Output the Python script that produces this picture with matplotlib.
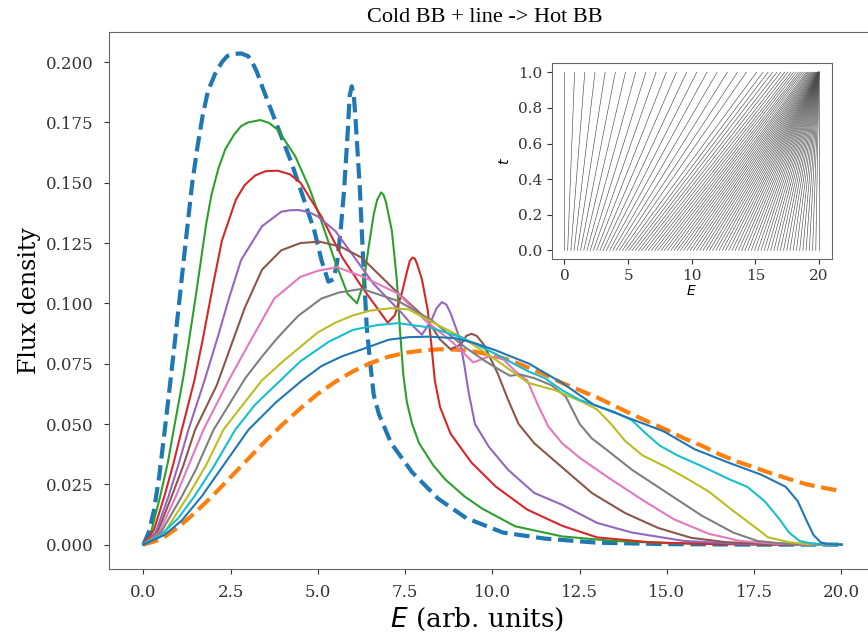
import numpy as np
import matplotlib
matplotlib.use("Agg")
import matplotlib.pyplot as plt

# spectra (E in arb. units, flux density)
e_cold = [0, 0.15, 0.3, 0.45, 0.6, 0.8, 1.0, 1.2, 1.4, 1.55, 1.7, 1.85, 2.05, 2.25, 2.4,
          2.6, 2.8, 3.0, 3.1, 3.25, 3.4, 3.85, 4.25, 4.6, 4.9, 5.1, 5.3, 5.45, 5.55, 5.65,
          5.75, 5.85, 5.91, 5.97, 6.03, 6.08, 6.2, 6.3, 6.4, 6.5, 6.6, 6.75, 7.1, 7.7, 8.45,
          9.25, 10.3, 11.5, 13, 15, 17.5, 20]
f_cold = [0, 0.005, 0.014, 0.028, 0.046, 0.071, 0.097, 0.124, 0.150, 0.165, 0.178, 0.188,
          0.195, 0.200, 0.2025, 0.2034, 0.2036, 0.2025, 0.2005, 0.196, 0.190, 0.173, 0.158,
          0.143, 0.130, 0.118, 0.109, 0.110, 0.117, 0.130, 0.147, 0.170, 0.186, 0.190, 0.186,
          0.176, 0.148, 0.117, 0.090, 0.075, 0.062, 0.054, 0.042, 0.030, 0.019, 0.011, 0.005,
          0.0025, 0.0008, 0.0002, 0, 0]

e_hot = [0, 0.5, 1.0, 1.5, 2.0, 2.5, 3.0, 3.5, 4.0, 4.5, 5.0, 5.5, 6.0, 6.5, 7.0, 7.5, 8.0,
         8.5, 9.0, 9.5, 10.0, 10.5, 11.0, 11.5, 12.0, 12.5, 13.0, 13.5, 14.0, 14.5, 15.0,
         15.5, 16.0, 16.5, 17.0, 17.5, 18.0, 18.5, 19.0, 19.5, 20.0]
f_hot = [0, 0.0022, 0.0072, 0.0135, 0.0205, 0.028, 0.0355, 0.043, 0.050, 0.0565, 0.0625,
         0.0675, 0.0718, 0.0752, 0.0778, 0.0795, 0.0805, 0.081, 0.0808, 0.080, 0.0785,
         0.0765, 0.0735, 0.0705, 0.067, 0.064, 0.061, 0.0575, 0.054, 0.0507, 0.0475, 0.044,
         0.041, 0.0375, 0.0345, 0.032, 0.0295, 0.0272, 0.025, 0.0235, 0.0222]

# intermediate spectra
e_1 = [0, 0.2, 0.48, 0.7, 0.86, 1.0, 1.15, 1.3, 1.5, 1.8, 1.95, 2.15, 2.35, 2.6, 2.8, 3.0,
       3.35, 3.6, 3.85, 4.35, 4.75, 5.1, 5.5, 5.85, 6.12, 6.3, 6.45, 6.6, 6.7, 6.81, 6.88,
       6.95, 7.12, 7.26, 7.35, 7.45, 7.55, 7.7, 7.9, 8.3, 8.65, 9.2, 9.7, 10.65, 12.0, 13.5,
       15.0, 17.5, 20.0]
f_1 = [0, 0.004, 0.020, 0.034, 0.047, 0.058, 0.070, 0.084, 0.103, 0.133, 0.145, 0.156,
       0.164, 0.170, 0.1735, 0.175, 0.176, 0.1748, 0.172, 0.161, 0.148, 0.134, 0.117, 0.104,
       0.100, 0.108, 0.123, 0.137, 0.143, 0.146, 0.145, 0.142, 0.130, 0.110, 0.089, 0.070,
       0.059, 0.050, 0.042, 0.033, 0.027, 0.020, 0.015, 0.0076, 0.0034, 0.0015, 0.0006,
       0.0001, 0]

e_2 = [0, 0.3, 0.6, 0.85, 1.1, 1.46, 1.7, 2.0, 2.25, 2.65, 2.9, 3.2, 3.5, 3.85, 4.2, 4.5,
       5.1, 5.7, 6.25, 6.75, 7.0, 7.2, 7.4, 7.55, 7.63, 7.71, 7.78, 7.85, 7.98, 8.15, 8.25,
       8.35, 8.5, 8.8, 9.4, 10.1, 11.0, 12.0, 13.0, 14.5, 16.0, 18.0, 20.0]
f_2 = [0, 0.006, 0.020, 0.033, 0.0476, 0.068, 0.085, 0.108, 0.126, 0.143, 0.149, 0.153,
       0.1548, 0.155, 0.1535, 0.150, 0.136, 0.119, 0.107, 0.097, 0.092, 0.095, 0.104, 0.113,
       0.1175, 0.119, 0.1185, 0.116, 0.110, 0.097, 0.083, 0.068, 0.057, 0.046, 0.034, 0.024,
       0.0145, 0.0078, 0.003, 0.001, 0.0003, 0, 0]

e_3 = [0, 0.35, 0.72, 1.0, 1.29, 1.75, 2.15, 2.45, 2.8, 3.4, 3.95, 4.2, 4.45, 4.75, 5.0,
       5.5, 6.05, 6.6, 7.0, 7.4, 7.7, 7.98, 8.25, 8.4, 8.55, 8.68, 8.8, 9.05, 9.2, 9.32, 9.5,
       9.9, 10.45, 11.2, 12.0, 13.0, 14.0, 15.5, 17.0, 19.0, 20.0]
f_3 = [0, 0.005, 0.020, 0.033, 0.0476, 0.068, 0.087, 0.102, 0.118, 0.132, 0.138, 0.1386,
       0.1387, 0.1378, 0.136, 0.130, 0.119, 0.108, 0.102, 0.096, 0.091, 0.087, 0.093, 0.098,
       0.1005, 0.0995, 0.096, 0.086, 0.074, 0.063, 0.050, 0.0405, 0.031, 0.0214, 0.0165,
       0.009, 0.005, 0.0015, 0.0004, 0, 0]

e_4 = [0, 0.4, 0.81, 1.15, 1.48, 2.1, 2.55, 2.9, 3.4, 3.95, 4.5, 5.05, 5.65, 6.25, 7.2,
       8.15, 8.5, 8.8, 9.1, 9.25, 9.4, 9.55, 9.75, 10.15, 10.45, 10.75, 11.2, 12.0, 12.85,
       13.8, 14.75, 15.7, 16.7, 18.0, 20.0]
f_4 = [0, 0.005, 0.020, 0.033, 0.0476, 0.066, 0.084, 0.098, 0.114, 0.122, 0.125, 0.1256,
       0.1235, 0.119, 0.1056, 0.093, 0.085, 0.081, 0.083, 0.0865, 0.0874, 0.0865, 0.083,
       0.071, 0.060, 0.050, 0.042, 0.032, 0.0214, 0.0131, 0.0069, 0.0028, 0.001, 0.0002, 0]

e_5 = [0, 0.45, 0.93, 1.3, 1.72, 2.44, 3.05, 3.75, 4.5, 5.0, 5.55, 6.3, 7.3, 8.07, 8.85,
       9.45, 9.9, 10.3, 10.65, 11.0, 11.3, 11.6, 12.0, 12.5, 13.3, 14.3, 15.2, 16.2, 17.1,
       18.1, 19.0, 20.0]
f_5 = [0, 0.005, 0.020, 0.033, 0.0476, 0.068, 0.084, 0.102, 0.111, 0.1135, 0.115, 0.111,
       0.104, 0.093, 0.084, 0.0755, 0.078, 0.077, 0.072, 0.068, 0.058, 0.049, 0.042, 0.036,
       0.028, 0.0185, 0.0105, 0.0045, 0.0015, 0.0004, 0, 0]

e_6 = [0, 0.5, 1.1, 1.5, 2.01, 2.92, 3.4, 3.8, 4.15, 4.45, 5.1, 5.6, 6.26, 7.3, 8.26, 9.2,
       9.8, 10.2, 10.5, 10.8, 11.2, 11.7, 12.1, 12.5, 12.85, 13.3, 14.0, 15.0, 16.0, 16.9,
       17.6, 18.5, 20.0]
f_6 = [0, 0.005, 0.020, 0.031, 0.0476, 0.069, 0.078, 0.085, 0.0905, 0.095, 0.102, 0.1045,
       0.106, 0.101, 0.093, 0.082, 0.076, 0.0725, 0.070, 0.0705, 0.069, 0.066, 0.0614, 0.050,
       0.044, 0.039, 0.031, 0.0215, 0.012, 0.005, 0.0015, 0.0002, 0]

e_7 = [0, 0.6, 1.27, 1.8, 2.29, 2.85, 3.39, 4.0, 4.5, 5.0, 5.5, 6.0, 6.5, 7.1, 7.6, 8.17,
       9.12, 10.1, 11.03, 11.8, 12.6, 13.0, 13.4, 13.8, 14.3, 15.0, 15.5, 16.2, 16.9, 17.5,
       17.9, 18.5, 19.0, 20.0]
f_7 = [0, 0.005, 0.020, 0.033, 0.0476, 0.058, 0.068, 0.076, 0.082, 0.088, 0.092, 0.095,
       0.097, 0.098, 0.0975, 0.093, 0.086, 0.0766, 0.067, 0.064, 0.059, 0.056, 0.050, 0.043,
       0.037, 0.032, 0.028, 0.022, 0.014, 0.0075, 0.003, 0.001, 0.0002, 0]

e_8 = [0, 0.5, 1.0, 1.46, 2.0, 2.63, 3.2, 3.92, 4.5, 5.3, 6.0, 6.7, 7.3, 8.2, 9.1, 10.1,
       11.0, 11.5, 12.0, 12.5, 13.0, 13.5, 14.0, 14.4, 14.8, 15.3, 16.0, 16.8, 17.3, 17.8,
       18.2, 18.5, 18.8, 19.2, 20.0]
f_8 = [0, 0.004, 0.011, 0.020, 0.032, 0.0476, 0.058, 0.068, 0.076, 0.084, 0.089, 0.091,
       0.0918, 0.090, 0.086, 0.079, 0.072, 0.069, 0.064, 0.060, 0.0575, 0.055, 0.0515,
       0.046, 0.041, 0.037, 0.0325, 0.027, 0.024, 0.018, 0.011, 0.005, 0.0015, 0.0003, 0]

e_9 = [0, 0.6, 1.1, 1.67, 2.3, 3.01, 3.8, 4.54, 5.1, 5.68, 6.35, 7.02, 7.6, 8.2, 8.93, 9.5,
       10.1, 11.05, 12.0, 12.9, 13.9, 14.9, 15.8, 16.8, 17.7, 18.4, 18.75, 19.0, 19.2, 19.4,
       19.6, 20.0]
f_9 = [0, 0.004, 0.010, 0.020, 0.033, 0.0476, 0.059, 0.068, 0.074, 0.078, 0.0814, 0.0849,
       0.086, 0.0862, 0.0856, 0.0835, 0.0805, 0.075, 0.067, 0.058, 0.0525, 0.047, 0.0395,
       0.0338, 0.029, 0.024, 0.018, 0.010, 0.004, 0.001, 0.0002, 0]

steps_e = [e_1, e_2, e_3, e_4, e_5, e_6, e_7, e_8, e_9]
steps_f = [f_1, f_2, f_3, f_4, f_5, f_6, f_7, f_8, f_9]

# inset: transport lines, E at t=0 (even grid) -> E at t=1
e_start = np.linspace(0, 20, 80)
e_end = [0.0, 0.8, 1.6, 2.4, 3.2, 4.0, 4.8, 5.6, 6.4, 7.2, 8.0, 8.8, 9.6, 10.4, 11.2, 12.0,
         12.8, 13.6, 14.3, 15.1, 15.6, 16.0, 16.35, 16.7, 17.0, 17.3, 17.55, 17.8, 18.0,
         18.2, 18.4, 18.55, 18.7, 18.85, 19.0, 19.1, 19.2, 19.3, 19.38, 19.46, 19.53, 19.6,
         19.66, 19.71, 19.76, 19.8, 19.84, 19.87, 19.9, 19.92, 19.94, 19.95, 19.96, 19.97,
         19.98, 19.98, 19.99, 19.99, 19.99] + [20.0] * 21

plt.rcParams['font.family'] = ['DejaVu Serif']

fig = plt.figure(figsize=(8.68, 6.32), dpi=100)
ax = fig.add_axes([0.125, 0.0997, 0.8846, 0.8497])

ax.plot(e_cold, f_cold, '--', color='C0', lw=3)
ax.plot(e_hot, f_hot, '--', color='C1', lw=3)
for i, (ee, ff) in enumerate(zip(steps_e, steps_f)):
    ax.plot(ee, ff, '-', color='C%d' % ((i + 2) % 10), lw=1.5)

ax.set_xlim(-1, 21)
ax.set_ylim(-0.0101, 0.2125)
ax.set_xticks(np.arange(0, 20.1, 2.5))
ax.set_yticks(np.arange(0, 0.201, 0.025))
ax.tick_params(labelsize=12, colors='0.2', pad=7)
for s in ax.spines.values():
    s.set_color('0.4')
ax.set_xlabel('$E$ (arb. units)', fontsize=19)
ax.xaxis.set_label_coords(0.48, -0.069)
ax.set_ylabel('Flux density', fontsize=17)
ax.set_title('Cold BB + line -> Hot BB', fontsize=16, pad=7, x=0.49,
             family=['Liberation Serif', 'DejaVu Serif'])

ins = fig.add_axes([0.6356, 0.5897, 0.3226, 0.3101])
for a, b in zip(e_start, e_end):
    ins.plot([a, b], [0, 1], color='0.3', lw=0.45)
ins.set_xticks([0, 5, 10, 15, 20])
ins.set_yticks([0, 0.2, 0.4, 0.6, 0.8, 1.0])
ins.tick_params(labelsize=11, colors='0.2')
for s in ins.spines.values():
    s.set_color('0.4')
ins.set_xlabel('$E$', fontsize=10, labelpad=1)
ins.set_ylabel('$t$', fontsize=10)

fig.savefig('out.png', dpi=100)
